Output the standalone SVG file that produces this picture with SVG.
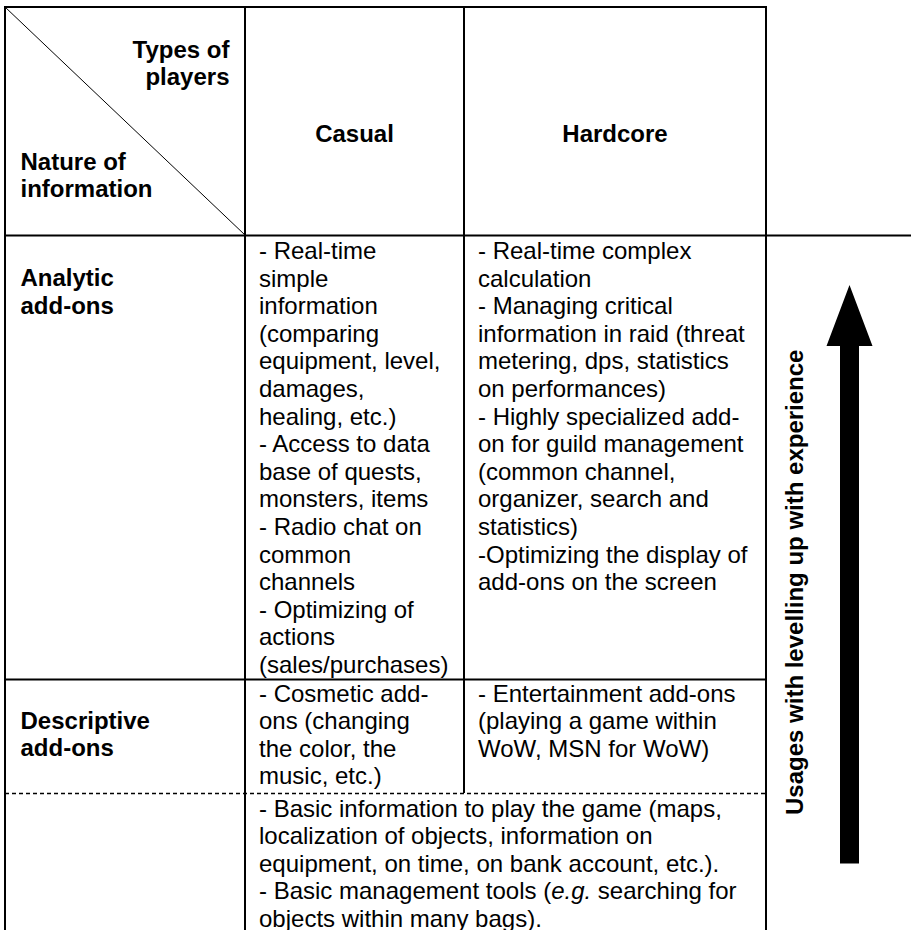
<svg xmlns="http://www.w3.org/2000/svg" width="911" height="930" viewBox="0 0 911 930">
<style>
text{font-family:"Liberation Sans",Arial,sans-serif;font-size:24px;fill:#000}
.b{font-weight:bold}
.grid{stroke:#000;stroke-width:2;fill:none}
.thin{stroke:#000;stroke-width:1;fill:none}
.dash{stroke:#000;stroke-width:1.4;stroke-dasharray:4 3;fill:none}
</style>
<rect width="911" height="930" fill="#fff"/>
<g id="grid">
<line class="grid" x1="4" y1="7" x2="767" y2="7"/>
<line class="grid" x1="5" y1="6" x2="5" y2="930"/>
<line class="grid" x1="245" y1="6" x2="245" y2="930"/>
<line class="grid" x1="464" y1="6" x2="464" y2="793"/>
<line class="grid" x1="766" y1="6" x2="766" y2="930"/>
<line class="grid" x1="4" y1="235.5" x2="911" y2="235.5"/>
<line class="grid" x1="4" y1="679.5" x2="767" y2="679.5"/>
<line class="dash" x1="5" y1="793.5" x2="766" y2="793.5"/>
<line class="thin" x1="5" y1="7" x2="245" y2="235"/>
</g>
<g id="header-corner">
<text class="b" x="229.5" y="57.7" text-anchor="end">Types of</text>
<text class="b" x="229.5" y="85.3" text-anchor="end">players</text>
<text class="b" x="20.5" y="169.5">Nature of</text>
<text class="b" x="20.5" y="197.1">information</text>
</g>
<g id="header-casual"><text class="b" x="354.5" y="141.7" text-anchor="middle">Casual</text></g>
<g id="header-hardcore"><text class="b" x="615" y="141.7" text-anchor="middle">Hardcore</text></g>
<g id="row-analytic">
<text class="b" x="20.5" y="286">Analytic</text>
<text class="b" x="20.5" y="313.6">add-ons</text>
</g>
<g id="analytic-casual">
<text x="259" y="259">- Real-time</text>
<text x="259" y="286.6">simple</text>
<text x="259" y="314.2">information</text>
<text x="259" y="341.8">(comparing</text>
<text x="259" y="369.4">equipment, level,</text>
<text x="259" y="397">damages,</text>
<text x="259" y="424.6">healing, etc.)</text>
<text x="259" y="452.2">- Access to data</text>
<text x="259" y="479.8">base of quests,</text>
<text x="259" y="507.4">monsters, items</text>
<text x="259" y="535">- Radio chat on</text>
<text x="259" y="562.6">common</text>
<text x="259" y="590.2">channels</text>
<text x="259" y="617.8">- Optimizing of</text>
<text x="259" y="645.4">actions</text>
<text x="259" y="673">(sales/purchases)</text>
</g>
<g id="analytic-hardcore">
<text x="478" y="259">- Real-time complex</text>
<text x="478" y="286.6">calculation</text>
<text x="478" y="314.2">- Managing critical</text>
<text x="478" y="341.8">information in raid (threat</text>
<text x="478" y="369.4">metering, dps, statistics</text>
<text x="478" y="397">on performances)</text>
<text x="478" y="424.6">- Highly specialized add-</text>
<text x="478" y="452.2">on for guild management</text>
<text x="478" y="479.8">(common channel,</text>
<text x="478" y="507.4">organizer, search and</text>
<text x="478" y="535">statistics)</text>
<text x="478" y="562.6">-Optimizing the display of</text>
<text x="478" y="590.2">add-ons on the screen</text>
</g>
<g id="row-descriptive">
<text class="b" x="20.5" y="728.5">Descriptive</text>
<text class="b" x="20.5" y="756.1">add-ons</text>
</g>
<g id="descriptive-casual">
<text x="259" y="701.5">- Cosmetic add-</text>
<text x="259" y="729.1">ons (changing</text>
<text x="259" y="756.7">the color, the</text>
<text x="259" y="784.3">music, etc.)</text>
</g>
<g id="descriptive-hardcore">
<text x="478" y="701.5">- Entertainment add-ons</text>
<text x="478" y="729.1">(playing a game within</text>
<text x="478" y="756.7">WoW, MSN for WoW)</text>
</g>
<g id="basic">
<text x="259" y="816.5">- Basic information to play the game (maps,</text>
<text x="259" y="844.1">localization of objects, information on</text>
<text x="259" y="871.7">equipment, on time, on bank account, etc.).</text>
<text x="259" y="899.3">- Basic management tools (<tspan font-style="italic">e.g.</tspan> searching for</text>
<text x="259" y="926.9">objects within many bags).</text>
</g>
<g id="connectors">
<polygon points="849.5,285 872.5,346 859,346 859,863.5 840,863.5 840,346 826.5,346" fill="#000"/>
</g>
<g id="axis-label">
<text class="b" transform="translate(803,815) rotate(-90)">Usages with levelling up with experience</text>
</g>
</svg>
